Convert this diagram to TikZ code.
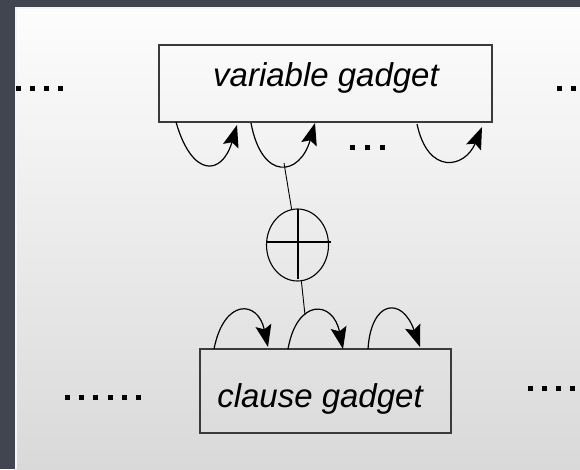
\documentclass[tikz,border=0pt]{standalone}
\usepackage{fontspec}
\setmainfont{Liberation Sans}
\usetikzlibrary{arrows.meta,shapes.geometric}
\definecolor{slate}{HTML}{41454F}
\definecolor{paneltop}{HTML}{FDFDFD}
\definecolor{panelbot}{HTML}{D9D9D9}
\definecolor{boxline}{HTML}{3A3A3A}
\tikzset{
  gadget/.style={draw=boxline, line width=1.1pt, minimum width=#1, inner sep=0pt},
  gadgettext/.style={anchor=base, inner sep=0pt, font=\fontsize{33}{39}\selectfont\itshape},
  loop/.style={line width=1.2pt, -{Stealth[length=22pt,width=16pt,inset=4pt]}},
  wire/.style={line width=0.9pt},
  dotsq/.style={fill=black, minimum size=5pt, inner sep=0pt, draw=none},
}
\begin{document}
\begin{tikzpicture}[x=1pt,y=-1pt]
  \useasboundingbox (0,0) rectangle (580,469);
  % slide backdrop and panel
  \fill[slate] (0,0) rectangle (580,469);
  \shade[top color=paneltop, bottom color=panelbot] (15,7) rectangle (580,469);
  \draw[white!92!gray, line width=1.5pt] (16,469) -- (16,8) -- (580,8);

  % gadget boxes
  \node[gadget=333pt, minimum height=77pt] (var) at (325.5,83.5) {};
  \node[gadgettext] (varlabel) at (326,86) {variable gadget};
  \node[gadget=251pt, minimum height=84pt] (cls) at (325.5,391) {};
  \node[gadgettext] (clslabel) at (320,407) {clause gadget};

  % loops under the variable gadget
  \coordinate (va1) at (176,122);  \coordinate (vb1) at (237,125);
  \coordinate (va2) at (251,123);  \coordinate (vb2) at (315,123);
  \coordinate (va3) at (417,124);  \coordinate (vb3) at (482,127);
  \draw[loop] (va1) .. controls (192,178) and (222,176) .. (vb1);
  \draw[loop] (va2) .. controls (262,182) and (300,176) .. (vb2);
  \draw[loop] (va3) .. controls (428,176) and (465,168) .. (vb3);

  % loops over the clause gadget
  \coordinate (ca1) at (214,349);  \coordinate (cb1) at (268,347);
  \coordinate (ca2) at (288,349);  \coordinate (cb2) at (343,349);
  \coordinate (ca3) at (368,349);  \coordinate (cb3) at (420,347);
  \draw[loop] (ca1) .. controls (224,298) and (258,300) .. (cb1);
  \draw[loop] (ca2) .. controls (297,298) and (333,300) .. (cb2);
  \draw[loop] (ca3) .. controls (371,300) and (402,296) .. (cb3);

  % xor joining the two gadgets
  \node[ellipse, draw=black, line width=1.1pt, minimum width=62pt, minimum height=72pt, inner sep=0pt] (xor) at (297.5,245) {};
  \draw[line width=1.1pt] (267,242) -- (331,242);
  \draw[line width=1.1pt] (298,209) -- (298,279);
  \coordinate (vtap) at (284,163);
  \coordinate (ctap) at (305,315);
  \draw[wire] (vtap) -- (xor);
  \draw[wire] (xor) -- (ctap);

  % ellipsis marks
  \foreach \x in {352,367,382} \node[dotsq] (mid\x) at (\x,147) {};
  \foreach \x in {18,32,46,60} \node[dotsq] (tl\x) at (\x,88) {};
  \foreach \x in {559,573,587} \node[dotsq] (tr\x) at (\x,88) {};
  \foreach \x in {67,81,95,110,124,138} \node[dotsq] (bl\x) at (\x,397) {};
  \foreach \x in {530,544,558,572} \node[dotsq] (br\x) at (\x,388) {};
\end{tikzpicture}
\end{document}
